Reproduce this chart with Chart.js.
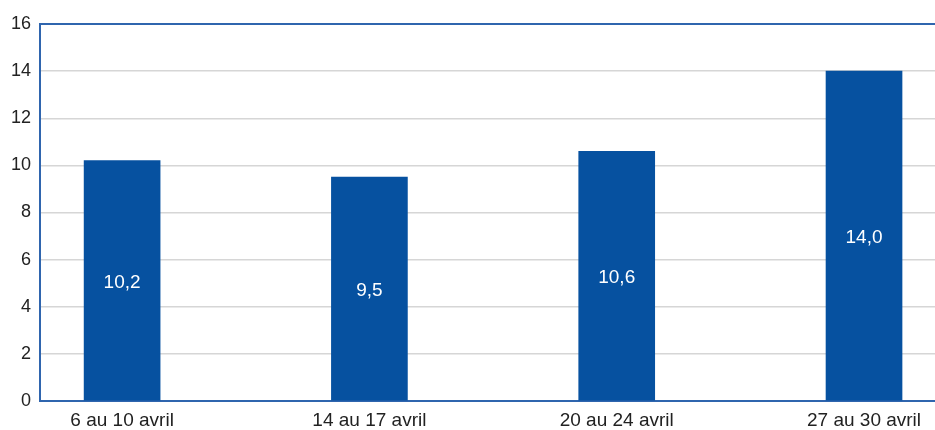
<!DOCTYPE html>
<html><head><meta charset="utf-8">
<script src="https://cdn.jsdelivr.net/npm/chart.js@4.4.1/dist/chart.umd.min.js"></script>
<style>html,body{margin:0;padding:0;background:#fff}#wrap{width:935px;height:430px}</style>
</head><body><div id="wrap"><canvas id="c" width="935" height="430"></canvas></div>
<script>
const categories = ["6 au 10 avril", "14 au 17 avril", "20 au 24 avril", "27 au 30 avril"];
const values = [10.2, 9.5, 10.6, 14.0];
const yTicks = [0, 2, 4, 6, 8, 10, 12, 14, 16];

const BAR = '#0651a0';
const AXIS = '#2f65ae';
const FONT = '"Liberation Sans", Arial, sans-serif';

const labelPlugin = {
  id: 'barLabels',
  afterDatasetsDraw(chart) {
    const ctx = chart.ctx;
    const meta = chart.getDatasetMeta(0);
    ctx.save();
    ctx.fillStyle = '#ffffff';
    ctx.font = '19px ' + FONT;
    ctx.textAlign = 'center';
    ctx.textBaseline = 'middle';
    meta.data.forEach((bar, i) => {
      const p = bar.getProps(['x', 'y', 'base'], true);
      ctx.fillText(values[i].toFixed(1).replace('.', ','), p.x, (p.y + p.base) / 2 + 2);
    });
    ctx.restore();
  }
};

new Chart(document.getElementById('c'), {
  type: 'bar',
  data: {
    datasets: [{
      data: values.map((v, i) => ({ x: i, y: v })),
      backgroundColor: BAR,
      borderWidth: 0,
      barThickness: 76
    }]
  },
  options: {
    responsive: false,
    animation: false,
    layout: { padding: { top: 24, right: 0, left: 0, bottom: 0 } },
    plugins: { legend: { display: false }, tooltip: { enabled: false } },
    scales: {
      x: {
        type: 'linear',
        offset: false,
        min: -0.332,
        max: 3.287,
        afterBuildTicks: (axis) => { axis.ticks = categories.map((_, i) => ({ value: i })); },
        afterFit: (axis) => { axis.height = 29; },
        grid: { display: false, drawTicks: false, offset: false },
        border: { display: true, color: AXIS, width: 2 },
        ticks: {
          autoSkip: false,
          maxRotation: 0,
          padding: 8,
          color: '#222',
          font: { size: 19, family: FONT },
          callback: (v) => categories[v] ?? ''
        }
      },
      y: {
        min: 0,
        max: 16,
        afterBuildTicks: (axis) => { axis.ticks = yTicks.map(v => ({ value: v })); },
        afterFit: (axis) => { axis.width = 40; },
        grid: {
          drawTicks: false,
          color: (ctx) => ctx.tick && ctx.tick.value === 16 ? AXIS : '#d6d6d6',
          lineWidth: (ctx) => ctx.tick && ctx.tick.value === 16 ? 2 : 1.5
        },
        border: { display: true, color: AXIS, width: 2 },
        ticks: {
          padding: 9,
          color: '#222',
          font: { size: 18, family: FONT }
        }
      }
    }
  },
  plugins: [labelPlugin]
});
</script></body></html>
